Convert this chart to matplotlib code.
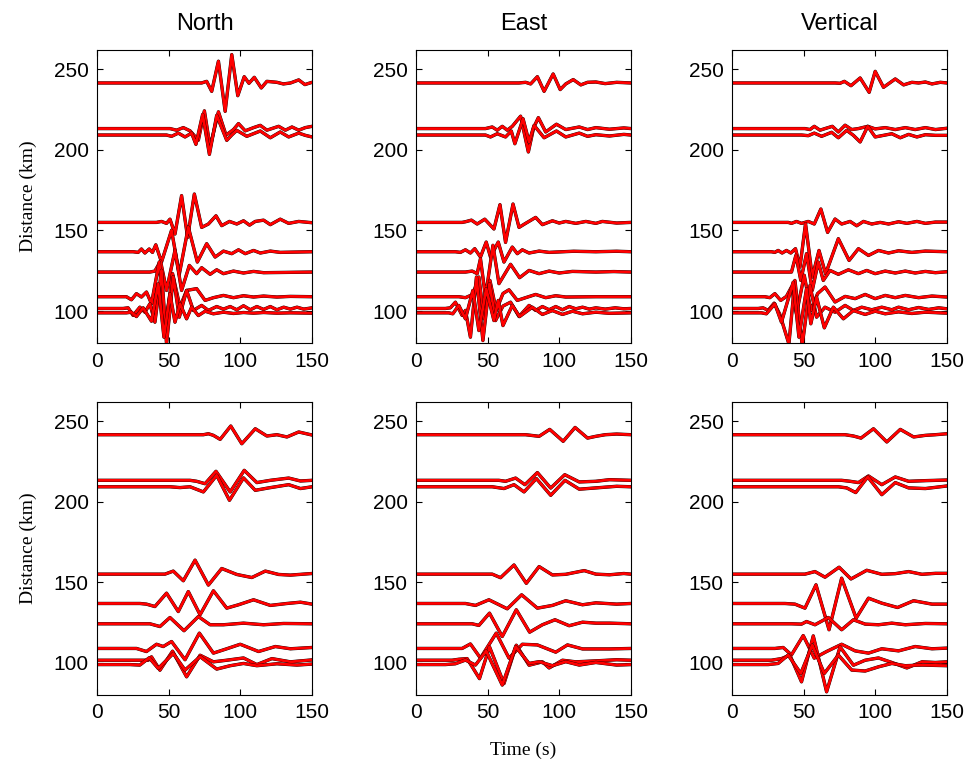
import matplotlib
matplotlib.use("Agg")
import matplotlib.pyplot as plt

# station distances (km), top to bottom
distances = [241.5, 213.2, 209.2, 155.0, 136.8, 124.2, 108.9, 101.6, 98.9]

# traces: per panel, one time list (s) and one amplitude list (km offset) per station
n1_t = [
    [0, 73, 76.5, 80, 84.7, 89.4, 94, 98.2, 102.7, 106, 109.7, 114.6, 118.5, 125.5, 130, 135, 140.7, 145, 150],
    [0, 50.9, 55.5, 60.2, 64.9, 70.7, 74.9, 78.9, 84.7, 90, 95.2, 98.7, 103.4, 109.2, 113.9, 118.5, 126.7, 131.4, 136, 140.7, 145.3, 150],
    [0, 48.5, 52, 56.7, 61.4, 66, 69, 73.7, 78.4, 83.5, 90.5, 94, 97.5, 104.5, 113.9, 120.9, 127.8, 133.7, 140.7, 145.3, 150],
    [0, 41.5, 45, 48.5, 50.9, 54.4, 59, 63.2, 67.9, 73, 77.7, 83, 87, 92.4, 97.5, 102.2, 106.4, 110.4, 116.2, 120.9, 127.8, 133.7, 140.7, 150],
    [0, 25.2, 28.7, 31, 33.4, 36.4, 38.7, 41, 45, 52, 57.4, 63.7, 70, 76.5, 82.4, 88.2, 94, 98.7, 103.4, 109.2, 113.9, 120.9, 127.8, 150],
    [0, 36.9, 40.4, 44.3, 48.5, 54.4, 59, 64.4, 69.5, 73, 78.9, 83.5, 88.2, 95.2, 102.2, 109.2, 116.2, 150],
    [0, 20.5, 24, 27.5, 31, 34.5, 38, 43.4, 47.4, 52.7, 57.9, 62.5, 69.5, 75.4, 81.2, 88.2, 95.2, 102.2, 109.2, 116.2, 125.5, 134.9, 150],
    [0, 18.2, 21.7, 25.2, 29.9, 33.4, 36.9, 40.4, 45, 48.5, 53.2, 57.4, 62.5, 67.2, 73, 77.7, 83.5, 88.2, 92.9, 97.5, 102.2, 106.9, 111.5, 116.2, 120.9, 125.5, 130.2, 134.9, 139.5, 144.2, 150],
    [0, 20.5, 24, 27.5, 32.2, 38, 42.7, 46.7, 50.9, 54.4, 57.9, 62.5, 66, 70.7, 75.4, 81.2, 88.2, 95.2, 102.2, 109.2, 116.2, 125.5, 134.9, 150],
]
n1_a = [
    [0, 0, 1, -5.2, 13.5, -17.6, 17.6, -7.9, 3.9, -0.2, 3.5, -3.1, 1, 0.4, -0.6, 0, 1.9, -1, 0.4],
    [0, 0, -1, 0.6, -1.4, -7.2, 11, -11.4, 10.4, -4.1, -0.6, 3.1, -1.4, 0.6, 2, -1, 1.4, -1, 1, -1, 0.6, 1.4],
    [0, 0, -0.8, 1.2, -1.2, 1.2, -5.8, 12.8, -12, 12.2, -3.3, 0, 2.9, -0.8, 2.5, -1.7, 1.9, -1.2, 1.2, -0.2, -1.2],
    [0, 0, 0.6, -0.6, 2, -7.2, 16.6, -9.3, 17.6, -3.1, -1, 4.1, -2, 0.6, -1, 1, -1.7, 0.6, 1.4, -1.4, 2, -0.6, 0.6, -0.2],
    [0, 0, -0.4, 1.7, -0.8, 1.7, -0.4, 4.3, -6.4, 13.3, -14, 15.3, -6.4, 5, -3.3, 0.4, -1.2, 1.2, -1.2, 0.8, -0.8, 0.4, -0.4, 0],
    [0, 0, 0.6, 6.8, -11.4, 13.5, -11.4, 4.1, -1, 2.7, -1.4, 1.4, -1, 0.6, -0.6, 0.4, -0.4, 0],
    [0, 0, -1.9, 1.9, -0.2, 2.9, -4.3, 21.5, -20.9, 14.3, -6.4, 3.9, 5, -2.3, -0.6, 0.8, -0.6, 0.6, -0.2, 0.4, -0.2, 0.2, 0],
    [0, 0, 0.4, -4.3, 0.8, -2.3, 2.9, -8.5, 23.6, -22, 19.7, -5.4, 11.2, -1.2, 1.9, -1.2, 1.2, -0.4, 1.2, -0.8, 1.7, -0.8, 1.2, -0.6, 1.2, -0.8, 0.8, -0.4, 0.8, -0.4, 0.4],
    [0, 0, 0.4, -2.3, 3.1, -5.2, 18, -15.1, 11.8, -5.8, 5.6, -3.7, 3.5, -1.7, 1, -0.6, 0.4, -0.4, 0.2, -0.2, 0.2, -0.2, 0, -0.2],
]

e1_t = [
    [0, 71.9, 76.5, 80, 84.7, 89.4, 95.7, 100.6, 104.5, 109.7, 115, 119.7, 125.5, 132, 140, 150],
    [0, 48.5, 53.2, 56.7, 60.2, 63.7, 67.2, 73, 78.4, 82.1, 85.4, 90.5, 98, 104.5, 113.9, 119.7, 125.5, 135, 145, 150],
    [0, 48.5, 52, 56.7, 62.5, 66.5, 69, 74.7, 78.9, 82.4, 89.4, 98, 104.5, 113.9, 119.7, 125.5, 135, 145, 150],
    [0, 32.2, 34.5, 38.7, 42.7, 48, 54.4, 58.6, 62.5, 67.7, 71.9, 76.5, 83.5, 88.2, 95.2, 99.9, 104.5, 111.5, 118.5, 125.5, 130, 140, 150],
    [0, 27.5, 31, 34.5, 38, 41, 45, 49, 52, 57.4, 61.4, 67.2, 70.7, 74.2, 78.9, 85.9, 92.9, 110, 125.5, 140, 150],
    [0, 34.5, 39.2, 42.7, 45, 48.5, 53.7, 57.9, 66, 72.3, 78.9, 85.9, 92.9, 99.9, 109.2, 125.5, 138, 150],
    [0, 29.9, 34.5, 39.7, 43.9, 47.4, 51.6, 56, 60.7, 64.9, 70.7, 76.5, 83.5, 90.5, 97.5, 104.5, 125.5, 150],
    [0, 20.5, 24, 27.5, 32.2, 34.5, 38, 42.2, 46.7, 51.3, 55.5, 60.7, 66, 71.9, 78.9, 83.5, 88.2, 92.9, 97.5, 102.2, 106.9, 111.5, 116.2, 120.9, 125.5, 132, 139, 145, 150],
    [0, 22.9, 25.7, 29.9, 34.5, 39.7, 43.9, 49, 54.4, 57.4, 60.7, 67.2, 72.3, 81.2, 88.2, 95.2, 102.2, 109.2, 116.2, 125.5, 135, 150],
]
e1_a = [
    [0, 0, 0.4, -0.6, 3.9, -5.2, 5.6, -4.1, -0.6, 2.1, -1.2, 0.4, 0.6, -0.4, 0.4, 0],
    [0, 0, 1, -1, 1.4, -1, 1.4, 7.7, -14.5, 0.6, 6.8, -2.1, 2.7, -0.6, 1, -0.6, 0.6, -0.4, 0.4, 0],
    [0, 0, -1.2, 0.8, -1.2, 2.5, -5.4, 10.1, -4.3, 6, -1.7, 2.5, -1.2, 1.2, -0.8, 0.2, -0.6, 0.4, 0],
    [0, 0, 0.4, 1.4, -1, 2, -4.1, 11, -12.4, 11.4, -3.1, -0.6, 3.1, -1.4, 1, -0.4, 0.6, -0.6, 0.6, -0.6, 0.6, -0.4, 0],
    [0, 0, -0.4, 1.2, -0.8, 1.9, -3.3, 6, -3.3, 6, -6.4, 2.9, -1.2, 1.2, -0.8, 0.4, -0.4, 0.3, 0, 0.3, 0],
    [0, 0, 0.6, -1, 8.3, -15.5, 16.6, -7.2, 4.8, -3.5, 1, -1, 0.6, -0.6, 0.4, 0, 0.3, 0],
    [0, 0, -0.6, 1.4, 12.2, -13.7, 10.1, -8.5, 2, 4.3, -2.3, -0.6, 1.4, -0.6, 0.6, -0.2, 0, 0],
    [0, 0, 0.4, 3.9, -4.3, -1.2, -17.8, 19.5, -19.9, 15.3, -7.5, 1.5, 3.9, -5, 1.9, -1.2, 1.2, -0.8, 1.2, -0.8, 1.2, -0.2, 0.8, -0.4, 0.4, -0.4, 0.4, -0.2, 0],
    [0, 0, -0.6, 4.6, -3.7, 13.9, -11, 14.9, -4.8, 7.7, -7.9, 4.6, -2.3, 3.5, -1, 1.4, -1, 1, -0.6, 0.4, -0.3, 0],
]

v1_t = [
    [0, 71.9, 75.4, 78.4, 83, 89.4, 95.7, 99.9, 105.7, 113.9, 119.7, 125.5, 130.2, 134.9, 139.5, 145.3, 150],
    [0, 50.9, 54.4, 57.4, 61.4, 64.9, 70, 74.2, 78.9, 83.5, 88.2, 94.7, 99.9, 106.9, 113.9, 120.9, 127.8, 134.9, 141.9, 150],
    [0, 48.5, 53.2, 57.4, 62.5, 69.5, 74.2, 80, 84.7, 89.4, 94.7, 99.9, 105.7, 111.5, 117.4, 123.2, 129, 134.9, 141.9, 150],
    [0, 39.2, 41.5, 45, 48.5, 53.2, 57.4, 62, 66.7, 71.9, 76.5, 82.4, 87, 91.7, 97.5, 103.4, 109.2, 116.2, 122, 129, 134.9, 141.9, 150],
    [0, 27.5, 29.9, 32.2, 35, 38, 41, 44.3, 47.4, 51.3, 56, 60.7, 65.3, 74.2, 81.7, 88.2, 95.2, 102.2, 109.2, 116.2, 125.5, 134.9, 150],
    [0, 39.2, 41.5, 44.6, 48, 52, 56, 60.2, 63.7, 68.4, 74.2, 81.2, 88.2, 94, 99.9, 106.9, 113.9, 120.9, 127.8, 134.9, 141.9, 150],
    [0, 22.9, 26.4, 29.9, 34, 38, 41.5, 45, 50.4, 55, 59.7, 64.9, 71.9, 78.9, 85.9, 92.9, 99.9, 106.9, 113.9, 120.9, 130.2, 139.5, 150],
    [0, 18.2, 21.7, 25.2, 29.4, 33.4, 39.7, 43.9, 49, 54.4, 59, 64.9, 71.9, 78.9, 84.7, 90.5, 97.5, 104.5, 111.5, 116.2, 123.2, 130.2, 137.2, 144.2, 150],
    [0, 20.5, 24, 29.9, 34.5, 42.7, 46.7, 52, 55, 59, 64.4, 70.7, 77.7, 84.7, 92.9, 99.9, 106.9, 116.2, 125.5, 134.9, 150],
]
v1_a = [
    [0, 0, -0.2, 1, -1.7, 3.1, -5.8, 7.2, -2.7, 2.5, -1.2, 0.4, 0, 0.6, -0.6, 0.4, 0],
    [0, 0, -0.6, 1.4, -1, 0, 1.4, -2.1, 2.1, -0.6, 0, 1.4, -0.2, 0.6, -0.6, 0.6, -0.6, 0.6, -0.6, 0.2],
    [0, 0, -0.4, 1.2, -0.8, 1.7, -1.7, 2.9, -0.2, -4.3, 5.4, -1.2, -0.2, 0.8, -1.7, 0.4, -1.2, 0.2, -0.2, -0.2],
    [0, 0, -0.6, 0.6, -0.6, 0.6, -1, 8.3, -6.2, 2.1, -1, 0.6, -2.1, 0.6, -1, 0, -1, 0.4, -0.6, 0.6, -0.6, 0.2, 0.2],
    [0, 0, -0.4, 0.8, -0.8, 0.8, -0.8, 1.9, -9.5, 17.4, -15.7, 0.8, -13.7, 8.1, -5.4, 1.9, -2.3, 0.8, -0.8, 0.6, -0.4, 0.4, 0],
    [0, 0, 0, 10.4, -5.2, 11.4, -11.4, 6.2, -5.2, 1, -1.4, 1.4, -1, 1, -1, 0.6, -0.6, 0.6, -0.6, 0.4, -0.4, 0.2],
    [0, 0, -0.6, 1.9, -2.3, 0.2, 6, -10.6, 13.3, -8.5, 1.9, 6, -3.3, 0.2, -1.2, 1.4, -1.2, 0.8, -0.6, 0.8, -0.6, 0.4, -0.2],
    [0, 0, 0.4, -1.2, 3.3, -3.7, -22, 17.4, -23, 14.3, -5.4, 0.8, -2.3, 1.9, -1.2, 0.8, -0.8, 0.8, -0.8, 0.8, -0.8, 0.6, -0.6, 0.4, -0.2],
    [0, 0, -0.6, 5.6, -5.8, 19, -15.1, 15, -6.8, 9.7, -9.3, 3.5, -3.7, 1.4, -1, 1, -0.6, 0.6, -0.4, 0.4, -0.2],
]

n2_t = [
    [0, 74.2, 77.7, 81.2, 85.9, 93.3, 101, 110.4, 118.5, 125.5, 132.5, 140.7, 150],
    [0, 64.9, 69.5, 75.4, 83, 92.9, 102.7, 111.5, 120.9, 133.7, 141.9, 150],
    [0, 50.9, 57.9, 64.9, 74.2, 83.5, 92.4, 102.2, 110.4, 119.7, 133.7, 141.9, 150],
    [0, 47.4, 53.2, 60.2, 68.4, 77.7, 87, 97.5, 108, 117.4, 126.7, 134.9, 150],
    [0, 29.9, 34.5, 40.4, 48.5, 56.7, 63.7, 71.9, 81.2, 90.5, 98.7, 109.2, 120.9, 132.5, 141.9, 150],
    [0, 36.9, 43.9, 50.9, 60.7, 70.7, 78.9, 88.2, 102.2, 116.2, 130.2, 150],
    [0, 27.5, 34.5, 41.5, 46.2, 52, 61.4, 71.4, 81.2, 90.5, 99.9, 112.7, 124.4, 134.9, 150],
    [0, 29.9, 35.7, 38, 43.9, 52.7, 62.5, 71.9, 81.2, 90.5, 102.2, 111.5, 122, 134.9, 150],
    [0, 22.9, 29.9, 36.4, 42.7, 53.2, 61.4, 71.9, 83.5, 92.9, 102.2, 111.5, 125.5, 139.5, 150],
]
n2_a = [
    [0, 0, 0.6, -0.4, -2.9, 5.4, -5.6, 3.7, -0.8, 0, -1.4, 1.7, -0.2],
    [0, 0, -0.6, -2.1, 5.6, -7.2, 6.2, -1.4, 0, 1.4, -0.4, 0],
    [0, 0, -0.5, 0, -3.2, 7.1, -8.4, 5.5, -2.2, -0.7, 1.3, -1.1, 0],
    [0, 0, 1.9, -4.1, 8.7, -6.8, 3.5, -0.2, -2.1, 1.9, -0.2, -0.6, 0.4],
    [0, 0, -0.4, -1.9, 6.4, -5, 7.4, -7, 7.9, -2.9, -0.8, 2.3, -1.2, 0, 0.8, -0.4],
    [0, 0, -1.7, 3.9, -4.3, 4.5, -0.6, -0.6, 0.4, -0.6, 0.2, 0],
    [0, 0, -1.9, 2.6, 1.2, 4.3, -7, 9.5, -2.9, -0.2, 2.6, -1.9, 1.2, -0.2, 0.6],
    [0, 0, 0, 2.1, -6.2, 5.6, -10.3, 3.1, -1, 0, 1.4, -2.7, 1, -1, 0.2],
    [0, 0, -0.3, 4.2, -2.4, 6.9, -3.4, 4.9, -2.8, -0.7, 0.7, -0.7, 0.5, -0.3, 0.3],
]

e2_t = [
    [0, 76.5, 85.9, 93.3, 102.7, 111, 119.7, 125.5, 132, 140, 150],
    [0, 57.9, 62.5, 69.5, 76, 84.7, 94, 103.8, 113.9, 125.5, 135, 150],
    [0, 53.2, 61.4, 68.4, 75.4, 84, 94, 104, 113.9, 125.5, 140, 150],
    [0, 53.2, 59, 68.4, 77, 85.9, 95.2, 104.5, 117.4, 125.5, 135, 145, 150],
    [0, 34.5, 41.5, 50.9, 63.7, 73.7, 84.7, 95.2, 104.5, 116.2, 125.5, 140, 150],
    [0, 39.2, 43.9, 51.3, 60.2, 70, 79.3, 88.2, 97, 106.9, 116.2, 125.5, 135, 150],
    [0, 32.2, 38, 45, 56, 64.9, 74.2, 84.7, 97.5, 105.7, 116.2, 125.5, 135, 150],
    [0, 25.2, 29.9, 35.7, 44.3, 51.3, 61.4, 70, 78.9, 88.2, 92.9, 102.2, 111.5, 125.5, 140, 150],
    [0, 20.5, 27.5, 34.5, 41.5, 49, 60.2, 69.5, 78.9, 85.9, 95.2, 104.5, 113.9, 125.5, 140, 150],
]
e2_a = [
    [0, 0, -1, 3.3, -4.1, 4.5, -2.1, -1, 0, 0.4, 0],
    [0, 0, -0.6, 1.4, -2.7, 4.8, -4.8, 3.5, -1, -0.6, 0.4, 0],
    [0, 0, -1.1, 1.3, -3.2, 5.1, -5.3, 4, -1.5, -0.7, 0.3, 0],
    [0, 0, -2.2, 5.7, -5.7, 4.7, -0.5, -0.1, 2.2, 0, -0.4, 0.4, 0],
    [0, 0, -1.2, 2.3, -3.3, 5.4, -2.9, -1.2, 1.7, -0.8, 0.4, -0.4, 0],
    [0, 0, -1, 6.6, -7.9, 8.7, -5.2, -0.6, 2.5, -1.2, 1, 0.4, 0.4, 0],
    [0, 0, 2.8, -6, 9.5, -6, 2.6, 2.2, -2.3, 2.2, -0.3, -0.3, -0.3, 0],
    [0, 0, 0.6, 1, -11.4, 8.3, -14.5, 9.3, -3.1, -1, -4.8, 0, -1, -0.4, 0.3, 0],
    [0, 0, 0.5, 2.8, -0.3, 8.4, -12.7, 11.1, 0.7, 1.8, -0.7, 1.8, -0.3, 1.3, -0.3, 0],
]

v2_t = [
    [0, 78.9, 84.7, 90, 98.7, 108, 117.4, 126.7, 134.9, 141.9, 150],
    [0, 76.5, 82.4, 88.2, 95.2, 104.5, 113.9, 123.2, 134.9, 150],
    [0, 74.2, 80, 86.3, 94.7, 104.5, 113.9, 123.2, 134.9, 150],
    [0, 50.9, 57.9, 64.9, 74.7, 83, 94, 104.5, 113.9, 123.2, 132.5, 141.9, 150],
    [0, 36.9, 43.9, 50.9, 58.6, 67.7, 76.5, 86.6, 95.2, 104.5, 115.5, 126.7, 139.5, 150],
    [0, 41.5, 48.5, 52, 57.9, 67.2, 76.5, 84.7, 92.9, 102.2, 111.5, 120.9, 134.9, 150],
    [0, 29.9, 35.7, 41.5, 49.7, 57.4, 66, 76.5, 85.9, 95.2, 104.5, 116.2, 127.8, 139.5, 150],
    [0, 27.5, 34.5, 40.4, 48.5, 56.7, 66, 75.4, 84.7, 92.9, 102.2, 111.5, 122, 132.5, 141.9, 150],
    [0, 25.2, 32.2, 39.2, 48, 56, 64.4, 74.2, 83.5, 92.9, 102.2, 111.5, 120.9, 132.5, 150],
]
v2_a = [
    [0, 0, -0.8, -2.1, 3.7, -4.5, 3.3, -1.4, -0.4, 0, 0.6],
    [0, 0, -0.6, -1.4, 2.7, -2.7, 2.1, -0.6, -0.2, 0.2],
    [0, 0, -0.7, -3.6, 6.1, -4.9, 2.6, -0.7, -1.1, 0.5],
    [0, 0, 1.6, -1.9, 4.3, -3, 2.4, -0.1, 0.3, 1.6, -0.1, 0.5, 0.5],
    [0, 0, -0.4, -2.9, 11.6, -16.3, 15.7, -9.1, 3.3, 0.2, -2.5, 1.7, -0.4, -0.4],
    [0, 0, -0.2, 1.4, -0.6, 3.9, -3.7, 2.5, -0.2, -0.6, 0.4, -0.6, 0.2, 0],
    [0, 0, 0.6, -4, 8, -6, -1.9, 2.6, -1.5, -2.9, -0.2, -1.5, 1.2, -0.2, 0.2],
    [0, 0, 1, 3.1, -13.4, 15.1, -19.6, 8.3, -3.1, 0, 1.4, -1.4, -4.8, -1, -1.4, -1],
    [0, 0, 0.7, 5.9, -5.5, 12.1, -5.5, 5.9, -3.4, -4, -1.4, 0.7, -0.7, -0.3, -0.7],
]

titles = ["North", "East", "Vertical"]
x_ticks = [0, 50, 100, 150]
y_ticks = [100, 150, 200, 250]

panels = [
    [(n1_t, n1_a), (e1_t, e1_a), (v1_t, v1_a)],
    [(n2_t, n2_a), (e2_t, e2_a), (v2_t, v2_a)],
]

sans = "Liberation Sans"
serif = "Liberation Serif"

fig = plt.figure(figsize=(9.73, 7.68), dpi=100)
lefts = [0.0997, 0.4275, 0.7523]
bottoms = [0.553, 0.095]
w, h = 0.221, 0.382

for r in range(2):
    for c in range(3):
        ax = fig.add_axes([lefts[c], bottoms[r], w, h])
        times, amps = panels[r][c]
        for d, t, a in zip(distances, times, amps):
            y = [d + v for v in a]
            ax.plot(t, y, color="black", lw=2.4, solid_joinstyle="round",
                    solid_capstyle="round")
            ax.plot(t, y, color="#ff0000", lw=2.0, solid_joinstyle="round",
                    solid_capstyle="round")
        ax.set_xlim(0, 150)
        ax.set_ylim(80, 262)
        ax.set_xticks(x_ticks)
        ax.set_yticks(y_ticks)
        ax.tick_params(direction="in", top=True, right=True, length=4,
                       width=0.8, labelsize=15, pad=6)
        for lab in ax.get_xticklabels() + ax.get_yticklabels():
            lab.set_fontfamily(sans)
        for s in ax.spines.values():
            s.set_linewidth(0.8)
        if r == 0:
            ax.set_title(titles[c], fontsize=17, family=sans, pad=14)
        if c == 0:
            ax.set_ylabel("Distance (km)", fontsize=14, family=serif, labelpad=12)
        if r == 1 and c == 1:
            ax.set_xlabel("Time (s)", fontsize=14, family=serif, labelpad=14)

fig.savefig("out.png", dpi=100)
